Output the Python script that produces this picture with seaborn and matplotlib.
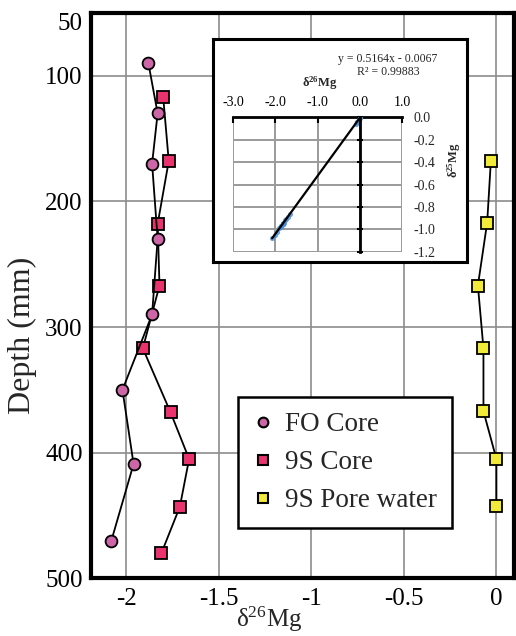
import matplotlib
matplotlib.use("Agg")
import matplotlib.pyplot as plt
from matplotlib.lines import Line2D
import seaborn as sns
import pandas as pd

# ---------------- data ----------------
fo_depth = [90, 130, 170, 230, 290, 350, 409, 470]
fo_d26 = [-1.88, -1.83, -1.86, -1.83, -1.86, -2.02, -1.96, -2.08]

s9_depth = [117, 168, 218, 267, 317, 368, 405, 443, 480]
s9_d26 = [-1.80, -1.77, -1.83, -1.82, -1.91, -1.76, -1.66, -1.71, -1.81]

pw_depth = [168, 217, 267, 317, 367, 405, 442]
pw_d26 = [-0.03, -0.05, -0.10, -0.07, -0.07, 0.00, 0.00]

series_names = ["FO Core", "9S Core", "9S Pore water"]

x_ticks = [-2, -1.5, -1, -0.5, 0]
x_tick_labels = ["-2", "-1.5", "-1", "-0.5", "0"]
y_ticks = [50, 100, 200, 300, 400, 500]
y_tick_labels = ["50", "100", "200", "300", "400", "500"]

# inset: delta26 vs delta25
ins_d26 = [-1.88, -1.83, -1.86, -1.83, -1.86, -2.02, -1.96, -2.08,
           -1.80, -1.77, -1.83, -1.82, -1.91, -1.76, -1.66, -1.71, -1.81,
           -0.03, -0.05, -0.10, -0.07, -0.07, 0.00, 0.00]
ins_d25 = [-0.98, -0.95, -0.97, -0.95, -0.97, -1.05, -1.02, -1.08,
           -0.94, -0.92, -0.95, -0.95, -0.99, -0.91, -0.86, -0.89, -0.94,
           -0.02, -0.03, -0.06, -0.04, -0.04, 0.00, -0.01]
ins_x_ticks = [-3.0, -2.0, -1.0, 0.0, 1.0]
ins_x_labels = ["-3.0", "-2.0", "-1.0", "0.0", "1.0"]
ins_y_ticks = [0.0, -0.2, -0.4, -0.6, -0.8, -1.0, -1.2]
ins_y_labels = ["0.0", "-0.2", "-0.4", "-0.6", "-0.8", "-1.0", "-1.2"]
eq_text = "y = 0.5164x - 0.0067"
r2_text = "R² = 0.99883"

# ---------------- style ----------------
sns.set_style("white")
plt.rcParams["font.family"] = ["Liberation Serif", "DejaVu Serif"]
plt.rcParams["mathtext.fontset"] = "custom"
plt.rcParams["mathtext.rm"] = "Liberation Serif"
plt.rcParams["mathtext.it"] = "Liberation Serif:italic"
plt.rcParams["mathtext.bf"] = "Liberation Serif:bold"
plt.rcParams["axes.unicode_minus"] = False

W, H = 516, 636
fig = plt.figure(figsize=(W / 100, H / 100), dpi=100)

def fr(x0, y0, x1, y1):
    return [x0 / W, 1 - y1 / H, (x1 - x0) / W, (y1 - y0) / H]

ax = fig.add_axes(fr(91, 12.8, 514, 578.4))

c_fo = "#cc66a6"
c_9s = "#e8336e"
c_pw = "#f2ea3a"

df_fo = pd.DataFrame({"d26": fo_d26, "depth": fo_depth})
df_9s = pd.DataFrame({"d26": s9_d26, "depth": s9_depth})
df_pw = pd.DataFrame({"d26": pw_d26, "depth": pw_depth})

common = dict(sort=False, estimator=None, color="black", lw=1.3, ax=ax,
              markeredgecolor="black", markeredgewidth=1.3, legend=False)
sns.lineplot(data=df_9s, x="d26", y="depth", marker="s", markersize=8.5,
             markerfacecolor=c_9s, zorder=3, **common)
sns.lineplot(data=df_fo, x="d26", y="depth", marker="o", markersize=8.5,
             markerfacecolor=c_fo, zorder=4, **common)
sns.lineplot(data=df_pw, x="d26", y="depth", marker="s", markersize=8.5,
             markerfacecolor=c_pw, zorder=3, **common)

ax.set_xlim(-2.19, 0.095)
ax.set_ylim(500, 50)
ax.set_xticks(x_ticks, x_tick_labels)
ax.set_yticks(y_ticks, y_tick_labels)
ax.set_xticks([v / 10 for v in range(-21, 1)], minor=True)
ax.set_yticks(list(range(60, 500, 20)), minor=True)
ax.tick_params(which="major", direction="in", length=8, width=2.2,
               labelsize=18, colors="black", pad=6)
ax.tick_params(which="minor", direction="in", length=4.5, width=1.5, colors="black")
ax.tick_params(axis="x", which="major", pad=7, color="#555555")
ax.grid(True, which="major", color="#8c8c8c", lw=1.2)
for s in ax.spines.values():
    s.set_linewidth(3)
    s.set_color("black")
ax.get_yticklabels()[0].set_va("top")

ax.set_ylabel("Depth (mm)", fontsize=23)
ax.yaxis.label.set_va("center")
ax.yaxis.set_label_coords(-0.163, 0.430)
ax.set_xlabel("δ$^{26}$Mg", fontsize=18)
ax.xaxis.set_label_coords(0.421, -0.046)

handles = [
    Line2D([], [], ls="none", marker="o", ms=7, mfc=c_fo, mec="black", mew=1.5),
    Line2D([], [], ls="none", marker="s", ms=7, mfc=c_9s, mec="black", mew=1.5),
    Line2D([], [], ls="none", marker="s", ms=7, mfc=c_pw, mec="black", mew=1.5),
]
leg = ax.legend(handles, series_names, loc="upper left",
                bbox_to_anchor=(237.7 / W, 1 - 397.3 / H),
                bbox_transform=fig.transFigure, borderaxespad=0,
                fontsize=19.5, frameon=True, fancybox=False, framealpha=1,
                edgecolor="black", borderpad=0.55, handlelength=0.8,
                handletextpad=0.4, labelspacing=0.48)
leg.get_frame().set_linewidth(1.8)
leg.set_zorder(10)

# ---------------- inset ----------------
box = fig.add_axes(fr(213, 39.3, 467.3, 261.7))
box.set_xticks([])
box.set_yticks([])
box.set_facecolor("white")
for s in box.spines.values():
    s.set_linewidth(2.2)
    s.set_color("black")

axi = fig.add_axes(fr(233.3, 117.3, 402, 251.7))
axi.set_facecolor("white")
sns.regplot(x=ins_d26, y=ins_d25, ax=axi, ci=None,
            scatter_kws=dict(color="#4a8fd4", s=14, marker="D", linewidths=0, zorder=3),
            line_kws=dict(color="black", lw=1.6, zorder=4))
axi.set_xlim(-3.0, 1.0)
axi.set_ylim(-1.2, 0.0)
axi.set_xticks(ins_x_ticks, ins_x_labels)
axi.set_yticks(ins_y_ticks)
axi.grid(True, color="#9a9a9a", lw=1.4)
axi.set_axisbelow(True)
for k in ["bottom", "right"]:
    axi.spines[k].set_visible(False)
axi.spines["top"].set_linewidth(2)
axi.spines["top"].set_color("black")
axi.spines["left"].set_position(("data", 0))
axi.spines["left"].set_linewidth(2)
axi.spines["left"].set_color("black")
axi.spines["left"].set_zorder(5)
axi.xaxis.set_ticks_position("top")
axi.tick_params(axis="x", which="major", direction="in", length=4, width=1.5,
                labelsize=10, pad=6, top=True, bottom=False,
                labeltop=True, labelbottom=False, colors="black")
axi.tick_params(axis="y", which="major", direction="inout", length=5, width=1.5,
                left=True, right=False, labelleft=False, colors="black")
sec = axi.secondary_yaxis("right")
sec.set_yticks(ins_y_ticks, ins_y_labels)
sec.tick_params(length=0, labelsize=10, pad=8)
sec.spines["right"].set_visible(False)
axi.set_xlabel("")
axi.set_ylabel("")

fig.text(388 / W, 1 - 59 / H, eq_text, ha="center", va="center", fontsize=8.5)
fig.text(388 / W, 1 - 72 / H, r2_text, ha="center", va="center", fontsize=8.5)
fig.text(320 / W, 1 - 83 / H, "δ$^{\\mathbf{26}}$Mg", ha="center", va="center",
         fontsize=9, fontweight="bold")
fig.text(454 / W, 1 - 160 / H, "δ$^{\\mathbf{25}}$Mg", ha="center", va="center",
         fontsize=9, fontweight="bold", rotation=90)

fig.savefig("out.png", dpi=100)
